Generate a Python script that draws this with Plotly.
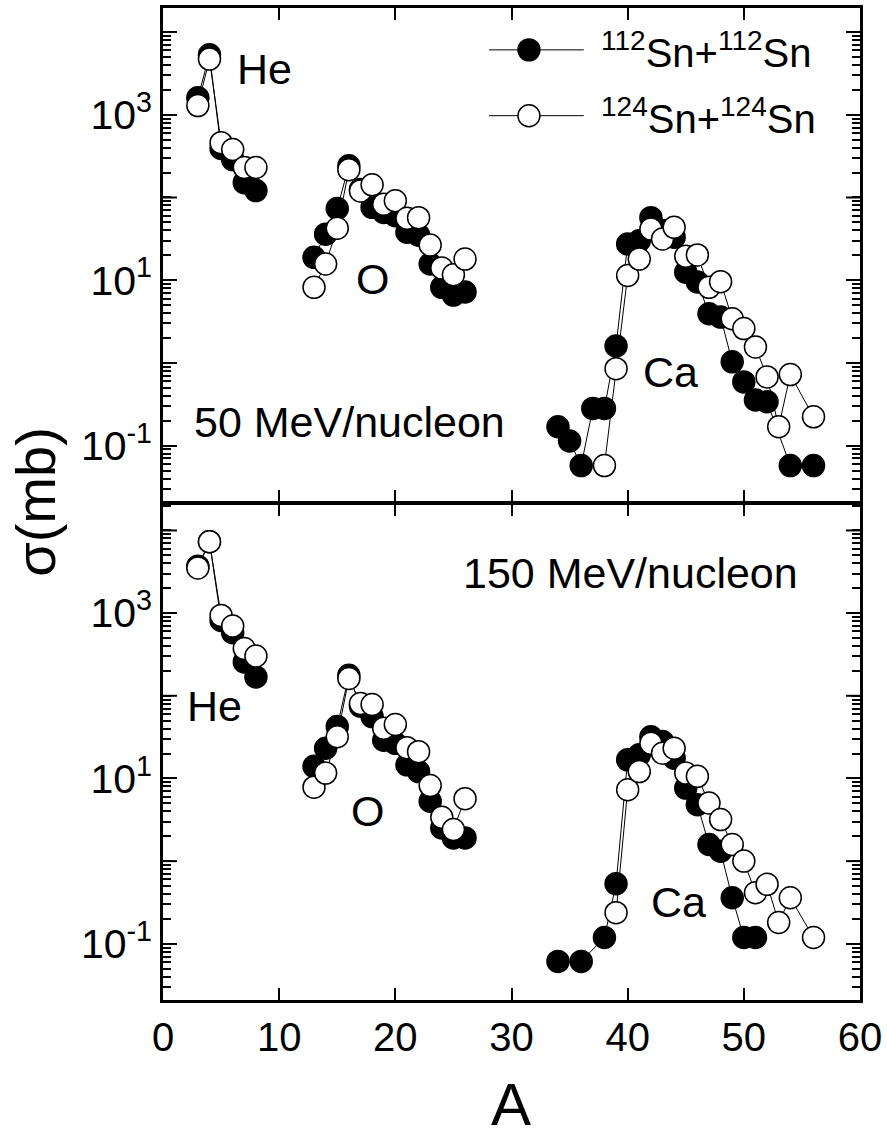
import plotly.graph_objects as go

# ---------------- data ----------------
# mass numbers per region
A_he = [3, 4, 5, 6, 7, 8]
A_o = [13, 14, 15, 16, 17, 18, 19, 20, 21, 22, 23, 24, 25, 26]

# 50 MeV/nucleon, 112Sn+112Sn (filled)
A_ca_50_112 = [34, 35, 36, 37, 38, 39, 40, 41, 42, 43, 44, 45, 46, 47, 48, 49, 50, 51, 52, 54, 56]
s_he_50_112 = [1600, 5300, 390, 287, 151, 121]
s_o_50_112 = [18.9, 36, 73.6, 241, 125, 76, 66, 60, 38, 35, 15.7, 8.2, 6.6, 7.2]
s_ca_50_112 = [0.169, 0.114, 0.0574, 0.282, 0.282, 1.6, 27.4, 30, 57, 40, 33, 12.5, 9.5,
               3.93, 3.58, 1.03, 0.59, 0.356, 0.339, 0.0574, 0.0574]

# 50 MeV/nucleon, 124Sn+124Sn (open)
A_ca_50_124 = [38, 39, 40, 41, 42, 43, 44, 45, 46, 47, 48, 49, 50, 51, 52, 53, 54, 56]
s_he_50_124 = [1290, 4700, 460, 380, 230, 230]
s_o_50_124 = [8.2, 15.7, 42.4, 216, 120, 142, 83, 91, 56, 57, 26.6, 14, 11.6, 18]
s_ca_50_124 = [0.0574, 0.853, 11.4, 18, 41.5, 31.5, 43.5, 19.5, 20.2, 8.2, 9.6, 3.42, 2.6,
               1.56, 0.678, 0.169, 0.723, 0.223]

# 150 MeV/nucleon, 112Sn+112Sn (filled)
A_ca_150_112 = [34, 36, 38, 39, 40, 41, 42, 43, 44, 45, 46, 47, 48, 49, 50, 51]
s_he_150_112 = [3700, 7300, 817, 580, 257, 169]
s_o_150_112 = [14, 23.2, 42.4, 177, 75, 56, 29, 26.6, 14.6, 12.1, 5.3, 2.52, 1.91, 1.91]
s_ca_150_112 = [0.0612, 0.0612, 0.119, 0.533, 16.8, 19.3, 32, 28, 17.6, 7.64, 4.82, 1.59,
                1.32, 0.361, 0.119, 0.119]

# 150 MeV/nucleon, 124Sn+124Sn (open)
A_ca_150_124 = [39, 40, 41, 42, 43, 44, 45, 46, 47, 48, 49, 50, 51, 52, 53, 54, 56]
s_he_150_124 = [3510, 7310, 938, 697, 372, 303]
s_o_150_124 = [7.85, 11.6, 32, 162, 80.7, 78.5, 40.4, 45, 23.6, 21.1, 8.2, 3.39, 2.41, 5.7]
s_ca_150_124 = [0.238, 7.3, 12.1, 26.6, 20.2, 23.2, 11.6, 10.6, 5.04, 3.18, 1.59, 1.0,
                0.415, 0.524, 0.181, 0.361, 0.119]

x_ticks = [0, 10, 20, 30, 40, 50, 60]
y_tickvals = [0.1, 10, 1000]
y_ticktext = ["10<sup>-1</sup>", "10<sup>1</sup>", "10<sup>3</sup>"]
y_unlabeled_decades = [1, 100, 10000]
legend_names = ["<sup>112</sup>Sn+<sup>112</sup>Sn", "<sup>124</sup>Sn+<sup>124</sup>Sn"]


def joined(a_ca, s_he, s_o, s_ca):
    xs = A_he + [None] + A_o + [None] + a_ca
    ys = s_he + [None] + s_o + [None] + s_ca
    return xs, ys


FONT = "Liberation Sans, Arial, sans-serif"
MS = 22

fig = go.Figure()


def add_series(xs, ys, filled, xa, ya):
    fig.add_trace(go.Scatter(
        x=xs, y=ys, mode="lines+markers", xaxis=xa, yaxis=ya,
        connectgaps=False, showlegend=False,
        line=dict(color="black", width=1),
        marker=dict(symbol="circle", size=MS,
                    color="black" if filled else "white",
                    line=dict(color="black", width=1.5)),
    ))


add_series(*joined(A_ca_50_112, s_he_50_112, s_o_50_112, s_ca_50_112), True, "x", "y")
add_series(*joined(A_ca_50_124, s_he_50_124, s_o_50_124, s_ca_50_124), False, "x", "y")
add_series(*joined(A_ca_150_112, s_he_150_112, s_o_150_112, s_ca_150_112), True, "x2", "y2")
add_series(*joined(A_ca_150_124, s_he_150_124, s_o_150_124, s_ca_150_124), False, "x2", "y2")

# plot-area pixel geometry
L, R, T, B = 163, 862, 5, 1000
split = 500
LW = 2.5


def px(x):
    return (x - L) / (R - L)


def py(y):
    return (B - y) / (B - T)


xcommon = dict(range=[0, 60], tickvals=x_ticks, ticks="inside", ticklen=12, tickwidth=2,
               tickcolor="black", showline=True, linewidth=LW, linecolor="black",
               mirror="allticks", showgrid=False, zeroline=False,
               tickfont=dict(family=FONT, size=40, color="black"))
ycommon = dict(type="log", tickvals=y_tickvals, ticktext=y_ticktext, ticks="inside",
               ticklen=14, tickwidth=2, tickcolor="black", showline=True, linewidth=LW,
               linecolor="black", mirror="allticks", showgrid=False, zeroline=False,
               tickfont=dict(family=FONT, size=41, color="black"),
               minor=dict(ticks="inside", ticklen=8, tickwidth=1.5, tickcolor="black",
                          dtick="D1", showgrid=False))

fig.update_layout(
    width=887, height=1141, autosize=False,
    margin=dict(l=L, r=887 - R, t=T, b=1141 - B),
    plot_bgcolor="white", paper_bgcolor="white",
    font=dict(family=FONT, color="black"),
    xaxis=dict(xcommon, anchor="y", showticklabels=False),
    yaxis=dict(ycommon, domain=[py(split), 1], range=[-1.675, 4.29], anchor="x"),
    xaxis2=dict(xcommon, anchor="y2"),
    yaxis2=dict(ycommon, domain=[0, py(split + LW)], range=[-1.68, 4.32], anchor="x2"),
)

ann = []


def text(x, y, s, size=43, **kw):
    ann.append(dict(x=px(x), y=py(y), xref="paper", yref="paper", text=s, showarrow=False,
                    xanchor=kw.get("xanchor", "center"), yanchor="middle",
                    textangle=kw.get("angle", 0),
                    font=dict(family=FONT, size=size, color="black")))


text(265, 66, "He")
text(373, 277, "O")
text(672, 370, "Ca")
text(350, 420, "50 MeV/nucleon")
text(632, 572, "150 MeV/nucleon")
text(215, 705, "He")
text(368, 810, "O")
text(680, 902, "Ca")
text(35, 500, "σ(mb)", size=56, angle=-90)
text(512, 1105, "A", size=60)

shapes = []
# unlabeled decade major ticks (long ticks, both sides) drawn as part of the axis frame
for yref_ax, rng in [("y", None), ("y2", None)]:
    for dv in y_unlabeled_decades:
        for side in (0, 1):
            x0 = 0 if side == 0 else 1
            x1 = x0 + (14 / (R - L)) * (1 if side == 0 else -1)
            shapes.append(dict(type="line", xref="paper", yref=yref_ax, x0=x0, x1=x1,
                               y0=dv, y1=dv, line=dict(color="black", width=2)))

for row_y, name, filled in [(47, legend_names[0], True), (113, legend_names[1], False)]:
    shapes.append(dict(type="line", xref="paper", yref="paper", x0=px(490), x1=px(585),
                       y0=py(row_y), y1=py(row_y), line=dict(color="black", width=1)))
    shapes.append(dict(type="circle", xref="paper", yref="paper",
                       x0=px(530 - 11), x1=px(530 + 11), y0=py(row_y + 11), y1=py(row_y - 11),
                       fillcolor="black" if filled else "white",
                       line=dict(color="black", width=1.5)))
    text(600, row_y, name, size=40, xanchor="left")

fig.update_layout(annotations=ann, shapes=shapes)
fig.write_html("out.html")
